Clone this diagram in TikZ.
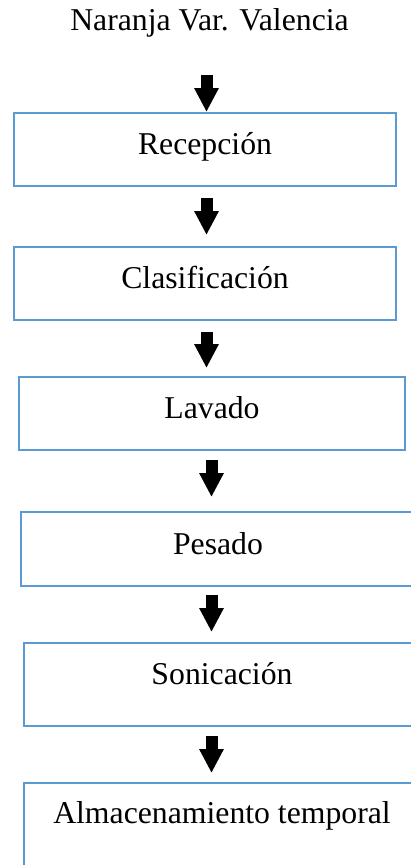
\documentclass[tikz,border=0pt]{standalone}
\usepackage{fontspec}
\setmainfont{Liberation Serif}
\usetikzlibrary{arrows.meta}
\definecolor{azul}{RGB}{91,155,213}
\tikzset{
  caja/.style={draw=azul,line width=1.5pt,rectangle,anchor=north west,inner xsep=0pt,inner ysep=0pt,outer sep=0pt,font=\fontsize{23.8pt}{28pt}\selectfont},
  flecha/.style={line width=9pt,-{Triangle[width=17.25pt,length=18pt]}}
}

\begin{document}
\begin{tikzpicture}[line join=miter,x=0.75pt,y=0.75pt]
		\clip (0,0) rectangle (411,-865);
		\coordinate (eje1) at (206.5,0);
		\coordinate (eje2) at (211.5,0);
		\node[anchor=base,inner sep=0pt,font=\fontsize{23.8pt}{28pt}\selectfont] (naranja) at (209.5,-30.7) {Naranja Var. Valencia};
		\node[caja,minimum width=286.5pt,text height=30.75pt,text depth=24pt] (recep) at (14,-113) {Recepción};
		\node[caja,minimum width=286.5pt,text height=30.75pt,text depth=24pt] (clasif) at (14,-247) {Clasificación};
		\node[caja,minimum width=289.5pt,text height=30.75pt,text depth=24pt] (lavado) at (19,-377) {Lavado};
		\node[caja,minimum width=295.5pt,text height=31.5pt,text depth=24pt] (pesado) at (21,-512) {Pesado};
		\node[caja,minimum width=297pt,text height=30.75pt,text depth=31.5pt] (sonic) at (24,-643) {Sonicación};
		\node[caja,minimum width=297pt,text height=30pt,text depth=42.75pt] (almac) at (24,-783) {Almacenamiento temporal};
		\draw[flecha,shorten <=28pt,shorten >=0.75pt] (naranja.south -| eje1) -- (recep.north -| eje1);
		\draw[flecha,shorten <=9pt,shorten >=9pt] (recep.south -| eje1) -- (clasif.north -| eje1);
		\draw[flecha,shorten <=9pt,shorten >=6.75pt] (clasif.south -| eje1) -- (lavado.north -| eje1);
		\draw[flecha,shorten <=7.5pt,shorten >=11.25pt] (lavado.south -| eje2) -- (pesado.north -| eje2);
		\draw[flecha,shorten <=6.75pt,shorten >=8.25pt] (pesado.south -| eje2) -- (sonic.north -| eje2);
		\draw[flecha,shorten <=7.5pt,shorten >=7.5pt] (sonic.south -| eje2) -- (almac.north -| eje2);
\end{tikzpicture}
\end{document}
